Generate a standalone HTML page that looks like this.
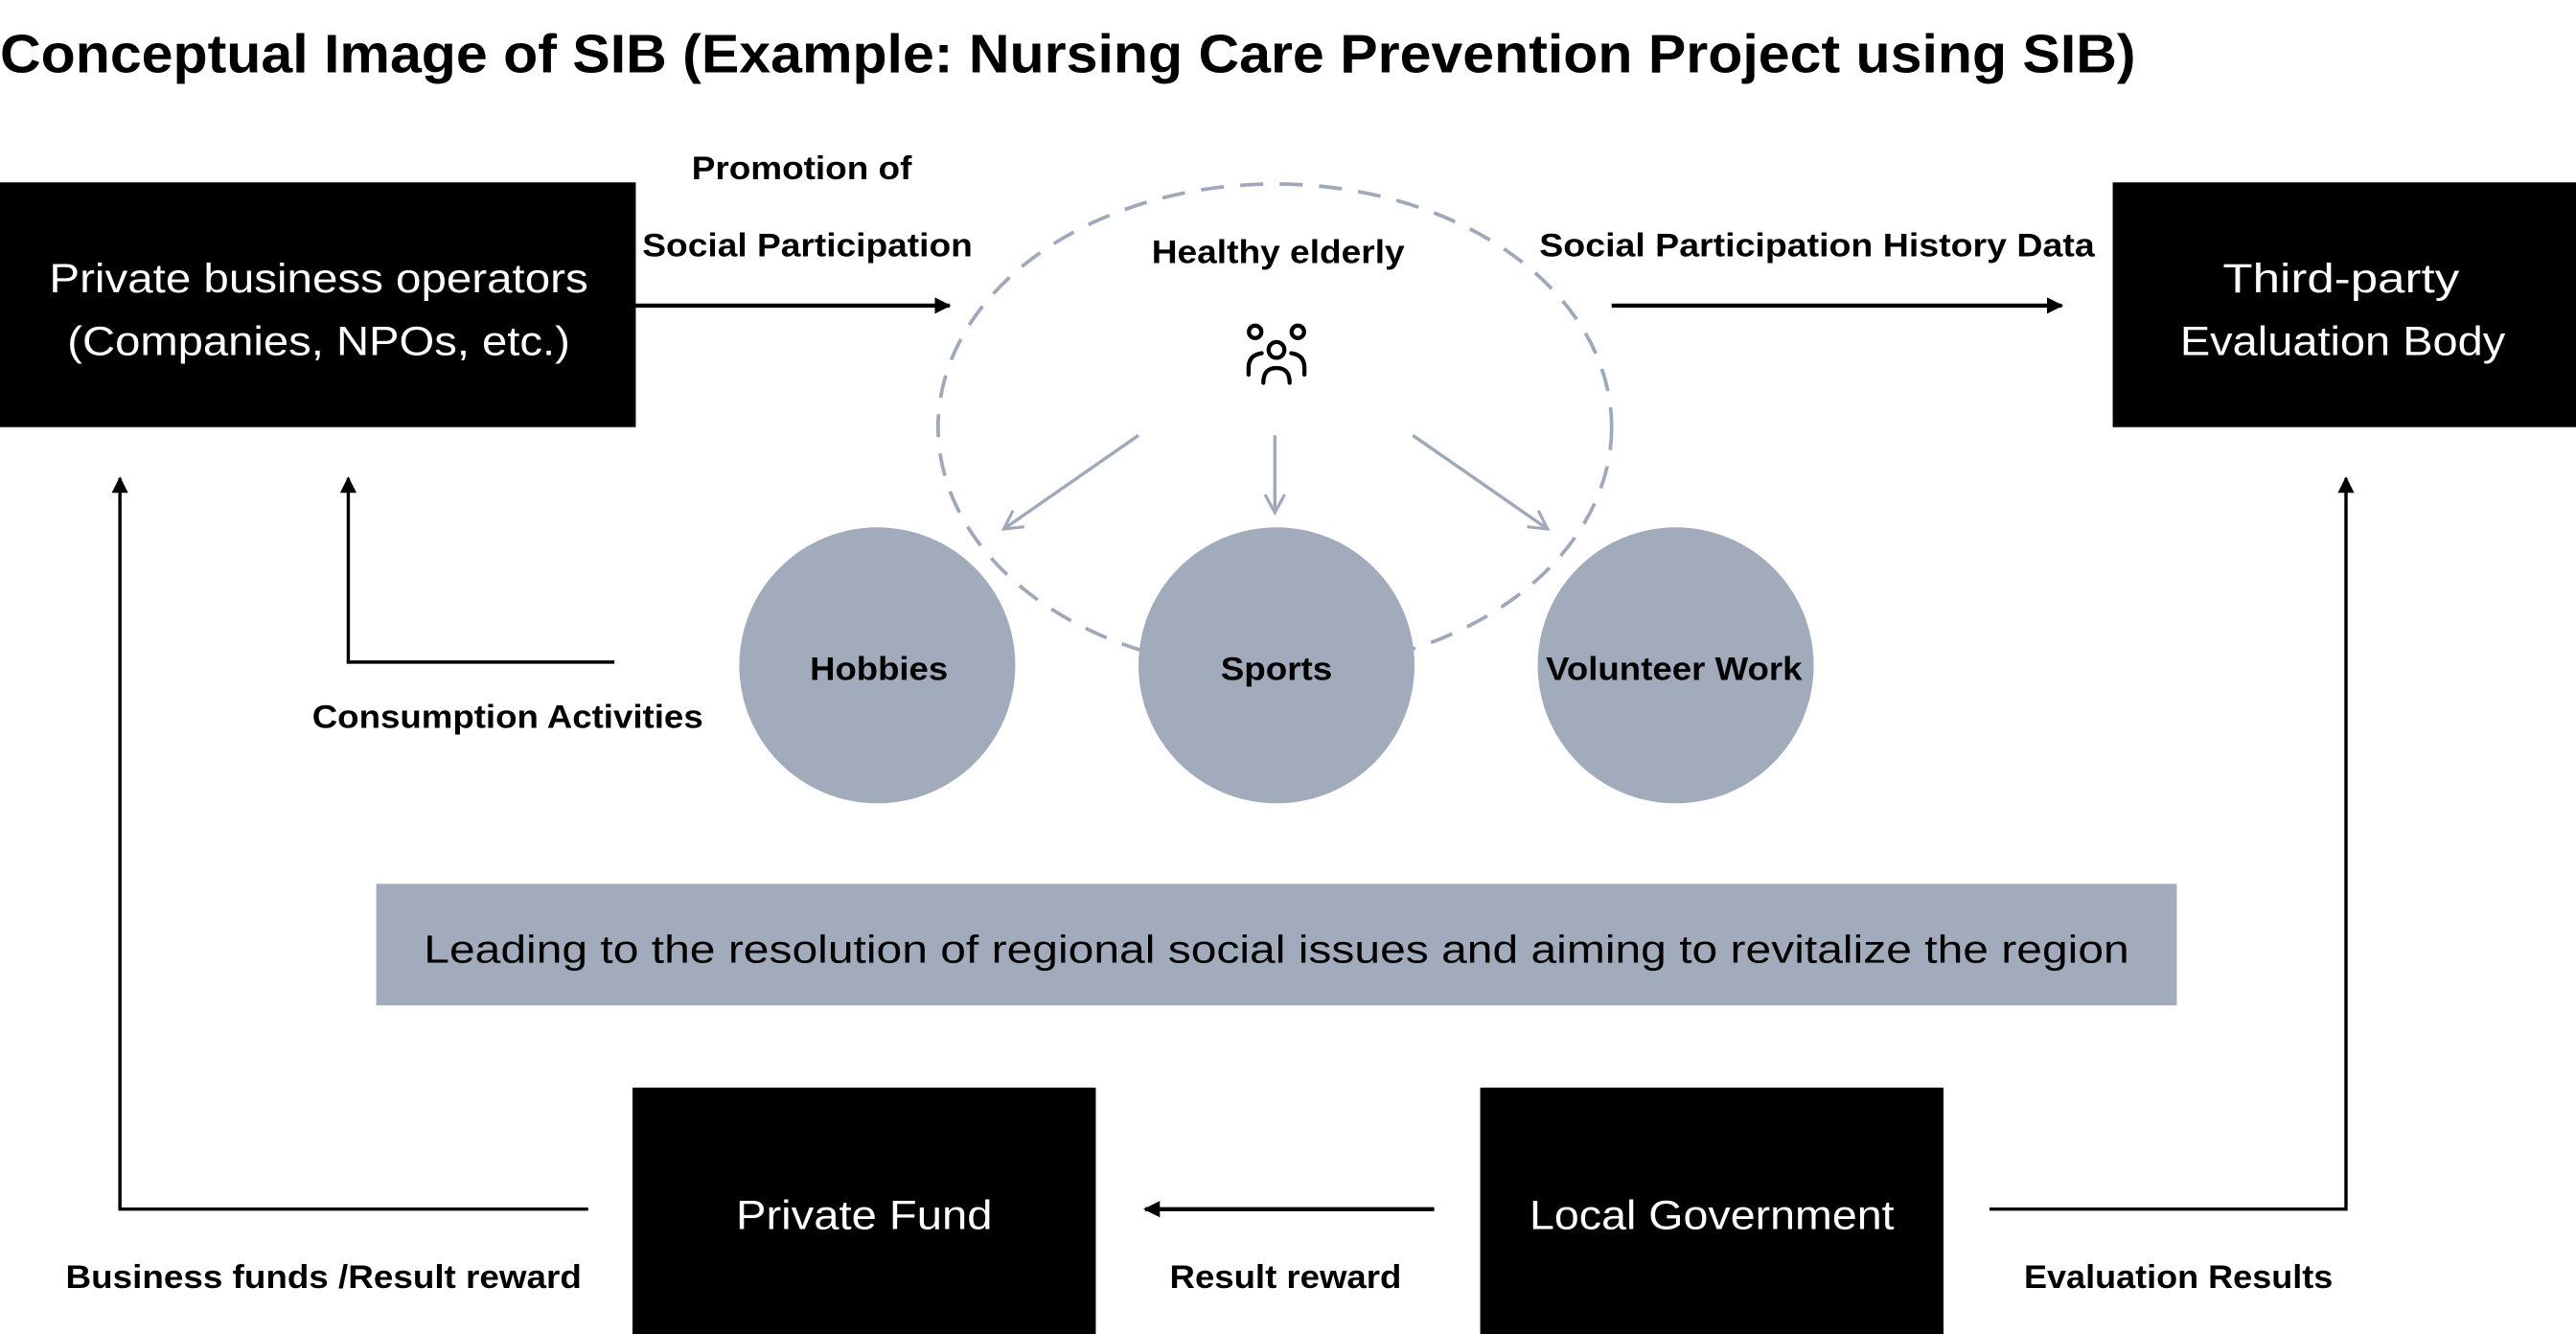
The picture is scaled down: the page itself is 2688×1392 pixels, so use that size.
<!DOCTYPE html>
<html><head><meta charset="utf-8"><style>
html,body{margin:0;padding:0;background:#fff;}
svg{display:block;}
text{font-family:"Liberation Sans",sans-serif;}
</style></head><body>
<svg width="2688" height="1392" viewBox="0 0 1568 812" xmlns="http://www.w3.org/2000/svg">
<defs>
<marker id="ah" markerWidth="10" markerHeight="10" refX="9" refY="5" orient="auto" markerUnits="userSpaceOnUse" viewBox="0 0 10 10">
<path d="M0,0 L10,5 L0,10 z" fill="#000"/></marker>
<marker id="ag" markerWidth="14" markerHeight="14" refX="12" refY="7" orient="auto" markerUnits="userSpaceOnUse" viewBox="0 0 14 14">
<path d="M1,1 L12,7 L1,13" fill="none" stroke="#a0a9ba" stroke-width="1.8"/></marker>
</defs>
<text x="0" y="44" font-size="33" font-weight="bold" textLength="1300" lengthAdjust="spacingAndGlyphs">Conceptual Image of SIB (Example: Nursing Care Prevention Project using SIB)</text>

<!-- dashed ellipse -->
<ellipse cx="776" cy="260" rx="205" ry="148" fill="none" stroke="#a0a9ba" stroke-width="2.2" stroke-dasharray="14 10"/>

<!-- circles -->
<circle cx="534" cy="405" r="84" fill="#a2abbb"/>
<circle cx="777" cy="405" r="84" fill="#a2abbb"/>
<circle cx="1020" cy="405" r="84" fill="#a2abbb"/>
<text x="535" y="414" font-size="20" font-weight="bold" text-anchor="middle" textLength="84" lengthAdjust="spacingAndGlyphs">Hobbies</text>
<text x="777" y="414" font-size="20" font-weight="bold" text-anchor="middle" textLength="68" lengthAdjust="spacingAndGlyphs">Sports</text>
<text x="1019" y="414" font-size="20" font-weight="bold" text-anchor="middle" textLength="156" lengthAdjust="spacingAndGlyphs">Volunteer Work</text>

<!-- gray arrows -->
<line x1="693" y1="265" x2="611" y2="322" stroke="#a0a9ba" stroke-width="2" marker-end="url(#ag)"/>
<line x1="776" y1="265" x2="776" y2="312" stroke="#a0a9ba" stroke-width="2" marker-end="url(#ag)"/>
<line x1="860" y1="265" x2="942" y2="322" stroke="#a0a9ba" stroke-width="2" marker-end="url(#ag)"/>

<text x="778" y="160" font-size="20" font-weight="bold" text-anchor="middle" textLength="154" lengthAdjust="spacingAndGlyphs">Healthy elderly</text>
<!-- people icon -->
<g fill="none" stroke="#000" stroke-width="2.5" stroke-linecap="round">
<circle cx="764" cy="202" r="3.8"/>
<circle cx="790" cy="202" r="3.8"/>
<circle cx="777" cy="213" r="4.8"/>
<path d="M760,228 L760,224 Q760,216 768,215"/>
<path d="M794,228 L794,224 Q794,216 786,215"/>
<path d="M769,233 Q769,224 777,224 Q785,224 785,233"/>
</g>

<!-- top boxes -->
<rect x="0" y="111" width="387" height="149" fill="#000"/>
<text x="194" y="178" font-size="25" fill="#fff" text-anchor="middle" textLength="328" lengthAdjust="spacingAndGlyphs">Private business operators</text>
<text x="194" y="216" font-size="25" fill="#fff" text-anchor="middle" textLength="306" lengthAdjust="spacingAndGlyphs">(Companies, NPOs, etc.)</text>
<rect x="1286" y="111" width="282" height="149" fill="#000"/>
<text x="1425" y="178" font-size="25" fill="#fff" text-anchor="middle" textLength="144" lengthAdjust="spacingAndGlyphs">Third-party</text>
<text x="1426" y="216" font-size="25" fill="#fff" text-anchor="middle" textLength="198" lengthAdjust="spacingAndGlyphs">Evaluation Body</text>

<text x="488" y="109" font-size="20" font-weight="bold" text-anchor="middle" textLength="134" lengthAdjust="spacingAndGlyphs">Promotion of</text>
<text x="391" y="156" font-size="20" font-weight="bold" textLength="201" lengthAdjust="spacingAndGlyphs">Social Participation</text>
<line x1="387" y1="186" x2="578" y2="186" stroke="#000" stroke-width="2.5" marker-end="url(#ah)"/>

<text x="937" y="156" font-size="20" font-weight="bold" textLength="338" lengthAdjust="spacingAndGlyphs">Social Participation History Data</text>
<line x1="981" y1="186" x2="1255" y2="186" stroke="#000" stroke-width="2.5" marker-end="url(#ah)"/>

<!-- consumption -->
<polyline points="374,403 212,403 212,291" fill="none" stroke="#000" stroke-width="2" marker-end="url(#ah)"/>
<text x="190" y="443" font-size="20" font-weight="bold" textLength="238" lengthAdjust="spacingAndGlyphs">Consumption Activities</text>

<!-- left loop -->
<polyline points="358,736 73,736 73,291" fill="none" stroke="#000" stroke-width="2" marker-end="url(#ah)"/>
<text x="40" y="784" font-size="20" font-weight="bold" textLength="314" lengthAdjust="spacingAndGlyphs">Business funds /Result reward</text>

<!-- right loop -->
<polyline points="1211,736 1428,736 1428,291" fill="none" stroke="#000" stroke-width="2" marker-end="url(#ah)"/>
<text x="1232" y="784" font-size="20" font-weight="bold" textLength="188" lengthAdjust="spacingAndGlyphs">Evaluation Results</text>

<!-- banner -->
<rect x="229" y="538" width="1096" height="74" fill="#a2abbb"/>
<text x="777" y="586" font-size="24" text-anchor="middle" textLength="1038" lengthAdjust="spacingAndGlyphs">Leading to the resolution of regional social issues and aiming to revitalize the region</text>

<!-- bottom boxes -->
<rect x="385" y="662" width="282" height="150" fill="#000"/>
<text x="526" y="748" font-size="25" fill="#fff" text-anchor="middle" textLength="156" lengthAdjust="spacingAndGlyphs">Private Fund</text>
<rect x="901" y="662" width="282" height="150" fill="#000"/>
<text x="1042" y="748" font-size="25" fill="#fff" text-anchor="middle" textLength="222" lengthAdjust="spacingAndGlyphs">Local Government</text>

<line x1="873" y1="736" x2="697" y2="736" stroke="#000" stroke-width="2.5" marker-end="url(#ah)"/>
<text x="712" y="784" font-size="20" font-weight="bold" textLength="141" lengthAdjust="spacingAndGlyphs">Result reward</text>
</svg>
</body></html>
